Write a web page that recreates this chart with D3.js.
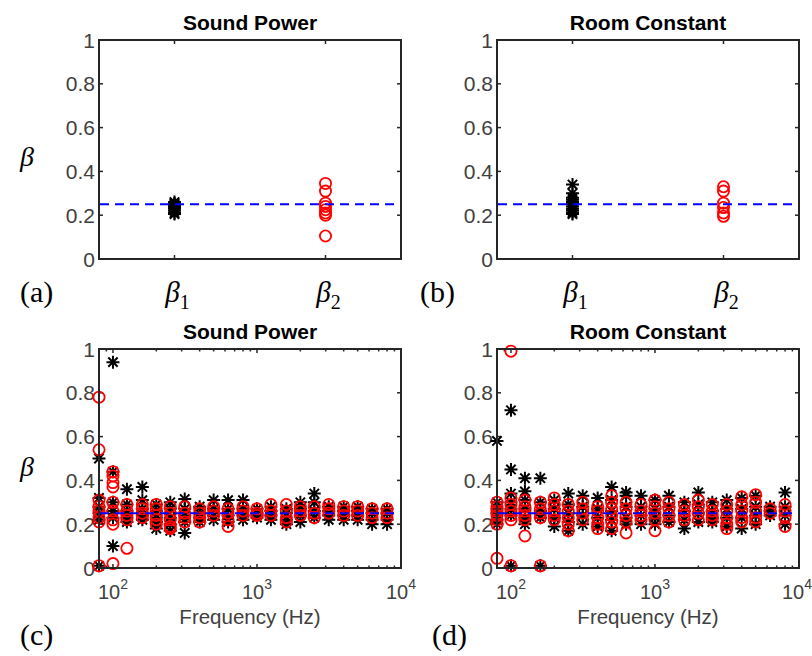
<!DOCTYPE html>
<html>
<head>
<meta charset="utf-8">
<script src="https://cdn.jsdelivr.net/npm/d3@7"></script>
<style>
  body { margin: 0; background: #fff; }
  text { font-family: "Liberation Sans", Arial, Helvetica, sans-serif; }
  .serif { font-family: "Liberation Serif", "Times New Roman", serif; }
</style>
</head>
<body>
<svg id="fig" width="812" height="656"></svg>
<script>
// ---- Broadband estimates (panels a, b) ----
const categories = ["1", "2"];               // subscripts of β on the category axis
const swlBroadBeta1 = [0.26, 0.255, 0.25, 0.245, 0.24, 0.235, 0.23, 0.22, 0.21, 0.205];
const swlBroadBeta2 = [0.345, 0.31, 0.255, 0.24, 0.225, 0.21, 0.2, 0.105];
const rcBroadBeta1  = [0.34, 0.30, 0.28, 0.27, 0.26, 0.25, 0.24, 0.23, 0.22, 0.21, 0.205];
const rcBroadBeta2  = [0.33, 0.31, 0.255, 0.235, 0.21, 0.195];

// ---- One-third octave band estimates (panels c, d) ----
const freqBands = [80, 100, 125, 160, 200, 250, 315, 400, 500, 630, 800,
                   1000, 1250, 1600, 2000, 2500, 3150, 4000, 5000, 6300, 8000];

const swlBeta1 = [
  [0.01, 0.50, 0.32, 0.28, 0.25, 0.22],
  [0.94, 0.44, 0.30, 0.26, 0.23, 0.10],
  [0.36, 0.29, 0.26, 0.23, 0.21],
  [0.37, 0.31, 0.27, 0.24, 0.22],
  [0.29, 0.26, 0.23, 0.21, 0.18],
  [0.30, 0.27, 0.23, 0.20, 0.17],
  [0.315, 0.27, 0.24, 0.21, 0.16],
  [0.28, 0.25, 0.23, 0.21],
  [0.31, 0.27, 0.24, 0.22],
  [0.31, 0.27, 0.24, 0.21],
  [0.31, 0.27, 0.24, 0.22],
  [0.27, 0.25, 0.24, 0.23],
  [0.28, 0.26, 0.24, 0.22],
  [0.27, 0.25, 0.22, 0.20],
  [0.30, 0.27, 0.24, 0.21],
  [0.34, 0.30, 0.26, 0.23],
  [0.28, 0.26, 0.24, 0.22],
  [0.28, 0.26, 0.24, 0.22],
  [0.28, 0.26, 0.24, 0.22],
  [0.27, 0.25, 0.22, 0.20],
  [0.27, 0.25, 0.22, 0.20]
];
const swlBeta2 = [
  [0.78, 0.54, 0.31, 0.28, 0.26, 0.23, 0.21, 0.01],
  [0.44, 0.42, 0.39, 0.37, 0.30, 0.26, 0.22, 0.20, 0.02],
  [0.29, 0.26, 0.24, 0.22, 0.09],
  [0.29, 0.27, 0.25, 0.23],
  [0.29, 0.27, 0.24, 0.22, 0.20],
  [0.28, 0.25, 0.22, 0.19, 0.18],
  [0.28, 0.25, 0.23, 0.21],
  [0.27, 0.25, 0.23, 0.21],
  [0.28, 0.26, 0.24],
  [0.27, 0.25, 0.22, 0.19],
  [0.28, 0.26, 0.24],
  [0.27, 0.25, 0.24],
  [0.29, 0.26, 0.24],
  [0.29, 0.26, 0.23, 0.21],
  [0.28, 0.26, 0.24],
  [0.28, 0.25, 0.23],
  [0.29, 0.27, 0.25],
  [0.28, 0.26, 0.24],
  [0.28, 0.26, 0.24],
  [0.27, 0.25, 0.23],
  [0.27, 0.25, 0.23]
];
const rcBeta1 = [
  [0.58, 0.30, 0.27, 0.25, 0.22, 0.20],
  [0.72, 0.45, 0.34, 0.30, 0.27, 0.24, 0.01],
  [0.41, 0.35, 0.31, 0.27, 0.23, 0.20],
  [0.41, 0.30, 0.26, 0.23, 0.01],
  [0.31, 0.27, 0.23, 0.19],
  [0.34, 0.29, 0.25, 0.21, 0.17],
  [0.33, 0.28, 0.24, 0.20],
  [0.32, 0.27, 0.23, 0.19],
  [0.37, 0.31, 0.26, 0.22, 0.17],
  [0.345, 0.33, 0.28, 0.23, 0.20],
  [0.33, 0.28, 0.24, 0.20],
  [0.31, 0.27, 0.23, 0.20],
  [0.33, 0.28, 0.24, 0.21],
  [0.30, 0.26, 0.22, 0.18],
  [0.345, 0.29, 0.25, 0.21],
  [0.30, 0.26, 0.23, 0.21],
  [0.31, 0.27, 0.23, 0.19],
  [0.32, 0.27, 0.23, 0.18],
  [0.33, 0.28, 0.24, 0.20],
  [0.28, 0.26, 0.24],
  [0.345, 0.28, 0.24, 0.20]
];
const rcBeta2 = [
  [0.30, 0.28, 0.26, 0.24, 0.22, 0.20, 0.044],
  [0.99, 0.32, 0.29, 0.26, 0.24, 0.22, 0.01],
  [0.31, 0.28, 0.26, 0.24, 0.22, 0.146],
  [0.30, 0.27, 0.25, 0.23, 0.01],
  [0.32, 0.29, 0.26, 0.24, 0.22],
  [0.29, 0.26, 0.23, 0.20, 0.17],
  [0.30, 0.27, 0.25, 0.22],
  [0.28, 0.26, 0.23, 0.20, 0.18],
  [0.33, 0.30, 0.27, 0.24, 0.21, 0.18],
  [0.30, 0.27, 0.24, 0.21, 0.16],
  [0.29, 0.26, 0.24, 0.22],
  [0.31, 0.28, 0.25, 0.22, 0.17],
  [0.30, 0.27, 0.24, 0.21],
  [0.29, 0.26, 0.24, 0.22],
  [0.31, 0.28, 0.25, 0.22],
  [0.29, 0.26, 0.24, 0.22],
  [0.29, 0.26, 0.23, 0.20, 0.18],
  [0.325, 0.29, 0.26, 0.23, 0.21],
  [0.335, 0.30, 0.26, 0.23, 0.21],
  [0.27, 0.25],
  [0.29, 0.26, 0.23, 0.19]
];

const targetBeta = 0.25;
const yTicks = [0, 0.2, 0.4, 0.6, 0.8, 1];
const yTickLabels = ["0", "0.2", "0.4", "0.6", "0.8", "1"];
const panelTitles = ["Sound Power", "Room Constant", "Sound Power", "Room Constant"];
const panelTags = ["(a)", "(b)", "(c)", "(d)"];

// ---- Drawing ----
const svg = d3.select("#fig");
const AXIS = "#262626", TICKTXT = "#404040";

const boxes = [
  { x0: 99,  x1: 401, y0: 40,  y1: 259 },
  { x0: 497, x1: 799, y0: 40,  y1: 259 },
  { x0: 99,  x1: 401, y0: 349, y1: 568 },
  { x0: 497, x1: 799, y0: 349, y1: 568 }
];

// MATLAB-style '*' marker
function asterisk(s) {
  const d = s * 0.72;
  return `M${-s},0L${s},0M0,${-s}L0,${s}M${-d},${-d}L${d},${d}M${-d},${d}L${d},${-d}`;
}

function frame(g, b, x, y, xTicksMajor, xTicksMinor) {
  // y ticks, left and right, pointing inwards
  yTicks.forEach((v, k) => {
    g.append("line").attr("x1", b.x0).attr("x2", b.x0 + 4)
      .attr("y1", y(v)).attr("y2", y(v)).attr("stroke", AXIS).attr("stroke-width", 1.5);
    g.append("line").attr("x1", b.x1).attr("x2", b.x1 - 4)
      .attr("y1", y(v)).attr("y2", y(v)).attr("stroke", AXIS).attr("stroke-width", 1.5);
    g.append("text").attr("x", b.x0 - 4).attr("y", y(v) + 7.5)
      .attr("text-anchor", "end").attr("font-size", 21).attr("fill", TICKTXT)
      .text(yTickLabels[k]);
  });
  const allX = xTicksMajor.map(v => [v, 4]).concat(xTicksMinor.map(v => [v, 2.5]));
  allX.forEach(([v, len]) => {
    g.append("line").attr("x1", x(v)).attr("x2", x(v))
      .attr("y1", b.y1).attr("y2", b.y1 - len).attr("stroke", AXIS).attr("stroke-width", 1.5);
    g.append("line").attr("x1", x(v)).attr("x2", x(v))
      .attr("y1", b.y0).attr("y2", b.y0 + len).attr("stroke", AXIS).attr("stroke-width", 1.5);
  });
}

function box(g, b) {
  g.append("rect").attr("x", b.x0).attr("y", b.y0)
    .attr("width", b.x1 - b.x0).attr("height", b.y1 - b.y0)
    .attr("fill", "none").attr("stroke", AXIS).attr("stroke-width", 2);
}

function refLine(g, b, y) {
  g.append("line").attr("x1", b.x0 + 1).attr("x2", b.x1 - 1)
    .attr("y1", y(targetBeta)).attr("y2", y(targetBeta))
    .attr("stroke", "#0000ff").attr("stroke-width", 2.2)
    .attr("stroke-dasharray", "9,6");
}

function drawMarkers(g, pts, x, y) {
  const stars = pts.filter(p => p.s === 1), rings = pts.filter(p => p.s === 2);
  g.append("g").selectAll("path").data(stars).join("path")
    .attr("transform", p => `translate(${x(p.x)},${y(p.v)})`)
    .attr("d", asterisk(6.5)).attr("fill", "none")
    .attr("stroke", "#000").attr("stroke-width", 2);
  g.append("g").selectAll("circle").data(rings).join("circle")
    .attr("cx", p => x(p.x)).attr("cy", p => y(p.v)).attr("r", 5.6)
    .attr("fill", "none").attr("stroke", "#ff0000").attr("stroke-width", 1.8);
}

function titleText(b, t) {
  svg.append("text").attr("x", (b.x0 + b.x1) / 2).attr("y", b.y0 - 10)
    .attr("text-anchor", "middle").attr("font-size", 21).attr("font-weight", "bold")
    .attr("fill", "#000").text(t);
}

function betaLabel(cx, cy) {
  svg.append("text").attr("class", "serif").attr("x", cx).attr("y", cy)
    .attr("text-anchor", "middle").attr("font-size", 28).attr("font-style", "italic")
    .attr("fill", "#000").text("β");
}

function tag(x, y, t) {
  svg.append("text").attr("class", "serif").attr("x", x).attr("y", y)
    .attr("font-size", 30).attr("fill", "#000").text(t);
}

// Panels a, b: broadband values per coefficient
[[swlBroadBeta1, swlBroadBeta2], [rcBroadBeta1, rcBroadBeta2]].forEach((pair, i) => {
  const b = boxes[i];
  const g = svg.append("g");
  const x = d3.scaleLinear().domain([0.5, 2.5]).range([b.x0, b.x1]);
  const y = d3.scaleLinear().domain([0, 1]).range([b.y1, b.y0]);
  frame(g, b, x, y, [1, 2], []);
  const pts = pair[0].map(v => ({ x: 1, v, s: 1 }))
    .concat(pair[1].map(v => ({ x: 2, v, s: 2 })));
  drawMarkers(g, pts, x, y);
  refLine(g, b, y);
  box(g, b);
  titleText(b, panelTitles[i]);
  // β1, β2 category labels
  categories.forEach((c, k) => {
    const t = svg.append("text").attr("class", "serif")
      .attr("x", x(k + 1) + 3).attr("y", 302).attr("text-anchor", "middle")
      .attr("font-size", 29).attr("fill", "#000");
    t.append("tspan").attr("font-style", "italic").text("β");
    t.append("tspan").attr("font-size", 20).attr("dy", 7).text(c);
  });
});

// Panels c, d: per one-third octave band
[[swlBeta1, swlBeta2], [rcBeta1, rcBeta2]].forEach((pair, i) => {
  const b = boxes[i + 2];
  const g = svg.append("g");
  const x = d3.scaleLog().domain([80, 10000]).range([b.x0, b.x1]);
  const y = d3.scaleLinear().domain([0, 1]).range([b.y1, b.y0]);
  const major = [100, 1000, 10000];
  const minor = [90];
  [100, 1000].forEach(dec => { for (let m = 2; m <= 9; m++) minor.push(dec * m); });
  frame(g, b, x, y, major, minor);
  const pts = [];
  freqBands.forEach((f, k) => {
    pair[0][k].forEach(v => pts.push({ x: f, v, s: 1 }));
    pair[1][k].forEach(v => pts.push({ x: f, v, s: 2 }));
  });
  drawMarkers(g, pts, x, y);
  refLine(g, b, y);
  box(g, b);
  titleText(b, panelTitles[i + 2]);
  // decade labels 10^n, kept inside the page
  major.forEach(v => {
    const cx = Math.min(x(v), 797);
    const t = svg.append("text").attr("x", cx).attr("y", b.y1 + 31)
      .attr("text-anchor", "middle").attr("font-size", 20).attr("fill", TICKTXT);
    t.append("tspan").text("10");
    t.append("tspan").attr("font-size", 14).attr("dy", -10).text(Math.round(Math.log10(v)));
  });
  svg.append("text").attr("x", (b.x0 + b.x1) / 2).attr("y", b.y1 + 56)
    .attr("text-anchor", "middle").attr("font-size", 20.5).attr("fill", TICKTXT)
    .text("Frequency (Hz)");
});

betaLabel(27, 166);
betaLabel(27, 476);
tag(20, 302, panelTags[0]);
tag(420, 302, panelTags[1]);
tag(20, 645, panelTags[2]);
tag(432, 645, panelTags[3]);
</script>
</body>
</html>
